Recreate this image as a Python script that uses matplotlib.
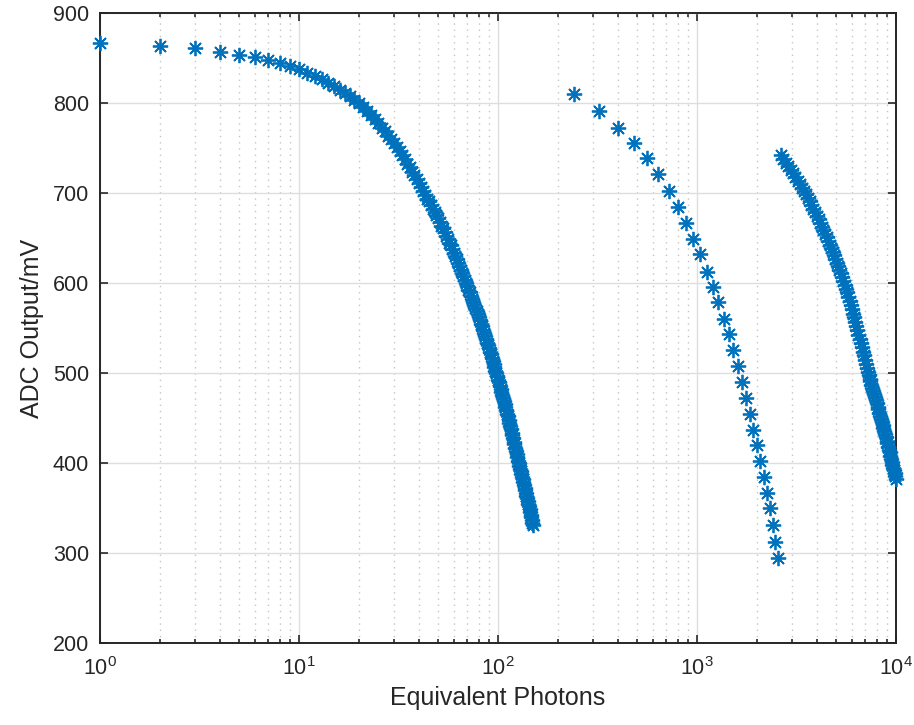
import matplotlib
matplotlib.use("Agg")
import matplotlib.pyplot as plt
from matplotlib.ticker import LogLocator, NullFormatter

plt.rcParams['font.family'] = ['Liberation Sans', 'DejaVu Sans']
plt.rcParams['mathtext.default'] = 'regular'

# series 1: low range (x step 1)
x1 = list(range(1, 151))
y1 = [867, 864, 861, 857, 854, 851, 848, 845, 841, 838,
      834, 830, 827, 823, 819, 815, 811, 808, 804, 800,
      796, 791, 787, 782, 778, 773, 769, 764, 760, 756,
      751, 747, 742, 738, 733, 729, 724, 720, 716, 711,
      707, 702, 698, 694, 691, 687, 683, 679, 676, 672,
      668, 664, 661, 657, 653, 649, 645, 642, 638, 634,
      630, 627, 623, 619, 615, 611, 608, 604, 600, 597,
      593, 590, 586, 583, 579, 576, 572, 569, 566, 562,
      559, 555, 552, 548, 545, 541, 538, 534, 531, 528,
      524, 521, 517, 514, 510, 507, 503, 500, 497, 493,
      490, 486, 483, 479, 476, 472, 469, 466, 462, 459,
      455, 452, 448, 445, 441, 438, 434, 431, 428, 424,
      421, 417, 414, 410, 407, 403, 400, 397, 394, 391,
      388, 385, 382, 379, 376, 373, 370, 367, 364, 361,
      358, 355, 352, 349, 346, 343, 340, 337, 334, 331]

# series 2: mid range (x step 80)
x2 = list(range(240, 2561, 80))
y2 = [810, 791, 773, 756, 739, 721, 703, 685, 667, 649,
      632, 613, 596, 579, 560, 544, 526, 508, 490, 473,
      455, 437, 420, 403, 385, 367, 350, 331, 313, 295]

# series 3: high range (x step 80)
x3 = list(range(2640, 10001, 80))
y3 = [742, 738, 734, 730, 726, 722, 718, 714, 710, 706,
      702, 699, 695, 691, 687, 683, 679, 675, 671, 667,
      663, 659, 655, 651, 647, 643, 639, 635, 631, 627,
      623, 619, 615, 611, 607, 603, 598, 594, 590, 585,
      580, 576, 571, 566, 562, 557, 552, 548, 543, 538,
      534, 529, 524, 520, 515, 510, 506, 501, 498, 494,
      491, 487, 484, 480, 477, 474, 470, 467, 463, 460,
      456, 453, 449, 446, 443, 439, 436, 432, 429, 425,
      422, 418, 415, 412, 408, 405, 401, 398, 395, 392,
      389, 386, 383]

col = '#0072BD'
axcol = '#262626'

fig = plt.figure(figsize=(9.14, 7.25), dpi=100)
ax = fig.add_axes([0.1094, 0.1127, 0.8709, 0.869])

for xs, ys in [(x1, y1), (x2, y2), (x3, y3)]:
    ax.plot(xs, ys, linestyle='none', marker=(8, 2, 0), markersize=11,
            markeredgewidth=1.3, color=col, clip_on=False, zorder=3)

ax.set_xscale('log')
ax.set_xlim(1, 1e4)
ax.set_ylim(200, 900)
ax.set_yticks(range(200, 901, 100))
ax.xaxis.set_minor_locator(LogLocator(base=10, subs=range(2, 10), numticks=20))
ax.xaxis.set_minor_formatter(NullFormatter())

ax.grid(True, which='major', color='#dedede', linewidth=1.0, linestyle='-')
ax.grid(True, which='minor', axis='x', color='#c4c4c4', linewidth=1.0,
        linestyle=(0, (1, 3.5)))
ax.set_axisbelow(True)

for s in ax.spines.values():
    s.set_color(axcol)
    s.set_linewidth(1.4)

ax.tick_params(which='both', direction='in', top=True, right=True,
               colors=axcol, labelcolor=axcol, width=1.2)
ax.tick_params(which='major', length=6, labelsize=15.5)
ax.tick_params(which='minor', length=3)
ax.tick_params(axis='x', which='major', pad=10)
ax.tick_params(axis='y', which='major', pad=8)

ax.set_xlabel('Equivalent Photons', fontsize=18, color=axcol, labelpad=4)
ax.set_ylabel('ADC Output/mV', fontsize=18, color=axcol, labelpad=6)

fig.savefig('out.png', dpi=100)
